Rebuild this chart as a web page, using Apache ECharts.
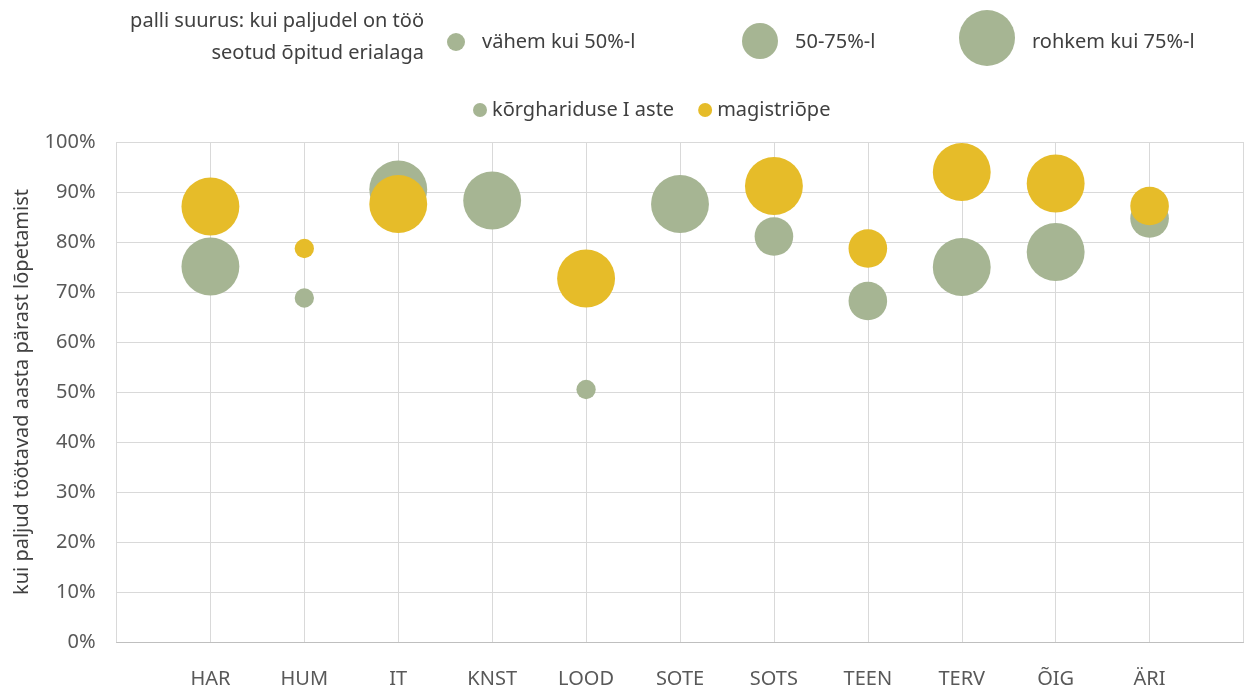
<!DOCTYPE html>
<html>
<head>
<meta charset="utf-8">
<style>
  html, body { margin: 0; padding: 0; background: #fff; }
  #main { width: 1248px; height: 690px; }
</style>
<script src="https://cdn.jsdelivr.net/npm/echarts@6/dist/echarts.min.js"></script>
</head>
<body>
<div id="main"></div>
<script>
// erialad (x axis categories)
var categories = ['HAR', 'HUM', 'IT', 'KNST', 'LOOD', 'SOTE', 'SOTS', 'TEEN', 'TERV', 'ÕIG', 'ÄRI'];

// kui paljud töötavad aasta pärast lõpetamist, %
var bachelorValues = [75.1, 68.8, 90.5, 88.3, 50.5, 87.6, 81.1, 68.2, 75.0, 78.0, 84.7];
var masterValues = [87.1, 78.7, 87.6, null, 72.7, null, 91.2, 78.7, 94.0, 91.7, 87.2];

// palli suurus: 1 = vähem kui 50%-l, 2 = 50-75%-l, 3 = rohkem kui 75%-l
var bachelorSize = [3, 1, 3, 3, 1, 3, 2, 2, 3, 3, 2];
var masterSize = [3, 1, 3, null, 3, null, 3, 2, 3, 3, 2];

var seriesNames = ['kõrghariduse I aste', 'magistriõpe'];
var sizeLabels = ['vähem kui 50%-l', '50-75%-l', 'rohkem kui 75%-l'];
var yTicks = [0, 10, 20, 30, 40, 50, 60, 70, 80, 90, 100];

var green = '#a6b593';
var yellow = '#e6bc29';
var font = 'Noto Sans';
var fs = 20;
var bubbleUnit = 19.3;

function toPoints(values, sizes) {
  var out = [];
  for (var i = 0; i < values.length; i++) {
    if (values[i] == null) continue;
    out.push([i + 1, values[i], sizes[i]]);
  }
  return out;
}

var myChart = echarts.init(document.getElementById('main'));

var textFont = fs + 'px "Noto Sans"';

var option = {
  backgroundColor: '#fff',
  animation: false,
  textStyle: { fontFamily: font },
  grid: { left: 116.5, right: 4.5, top: 142, bottom: 48, containLabel: false },
  legend: {
    data: seriesNames,
    top: 95,
    left: 468,
    itemGap: 24,
    itemWidth: 14,
    itemHeight: 14,
    icon: 'circle',
    textStyle: { fontSize: fs, color: '#404040', fontFamily: font }
  },
  xAxis: {
    type: 'value',
    min: 0,
    max: 12,
    interval: 1,
    axisLine: { show: true, lineStyle: { color: '#bfbfbf', width: 1 } },
    axisTick: { show: false },
    splitLine: { show: true, lineStyle: { color: '#d9d9d9', width: 1 } },
    axisLabel: {
      margin: 27,
      fontSize: fs,
      color: '#595959',
      fontFamily: font,
      formatter: function (v) { return categories[v - 1] || ''; }
    }
  },
  yAxis: {
    type: 'value',
    min: 0,
    max: 100,
    interval: 10,
    name: 'kui paljud töötavad aasta pärast lõpetamist',
    nameLocation: 'middle',
    nameGap: 84,
    nameTextStyle: { fontSize: fs, color: '#404040', fontFamily: font },
    axisLine: { show: false },
    axisTick: { show: false },
    splitLine: { show: true, lineStyle: { color: '#d9d9d9', width: 1 } },
    axisLabel: {
      margin: 21,
      fontSize: fs,
      color: '#595959',
      fontFamily: font,
      formatter: function (v) { return yTicks.indexOf(v) >= 0 ? v + '%' : ''; }
    }
  },
  series: [
    {
      name: seriesNames[0],
      type: 'scatter',
      data: toPoints(bachelorValues, bachelorSize),
      symbolSize: function (d) { return d[2] * bubbleUnit; },
      itemStyle: { color: green, opacity: 1 }
    },
    {
      name: seriesNames[1],
      type: 'scatter',
      data: toPoints(masterValues, masterSize),
      symbolSize: function (d) { return d[2] * bubbleUnit; },
      itemStyle: { color: yellow, opacity: 1 }
    }
  ],
  graphic: [
    {
      type: 'text', right: 1248 - 424, top: 11,
      style: { text: 'palli suurus: kui paljudel on töö', font: textFont, fill: '#404040', align: 'right' }
    },
    {
      type: 'text', right: 1248 - 424, top: 43,
      style: { text: 'seotud õpitud erialaga', font: textFont, fill: '#404040', align: 'right' }
    },
    { type: 'circle', shape: { cx: 456, cy: 42, r: 9 }, style: { fill: green } },
    {
      type: 'text', left: 482, top: 32,
      style: { text: sizeLabels[0], font: textFont, fill: '#404040' }
    },
    { type: 'circle', shape: { cx: 760, cy: 41, r: 18 }, style: { fill: green } },
    {
      type: 'text', left: 795, top: 32,
      style: { text: sizeLabels[1], font: textFont, fill: '#404040' }
    },
    { type: 'circle', shape: { cx: 987, cy: 38, r: 28 }, style: { fill: green } },
    {
      type: 'text', left: 1032, top: 32,
      style: { text: sizeLabels[2], font: textFont, fill: '#404040' }
    }
  ]
};

myChart.setOption(option, true);
</script>
</body>
</html>
